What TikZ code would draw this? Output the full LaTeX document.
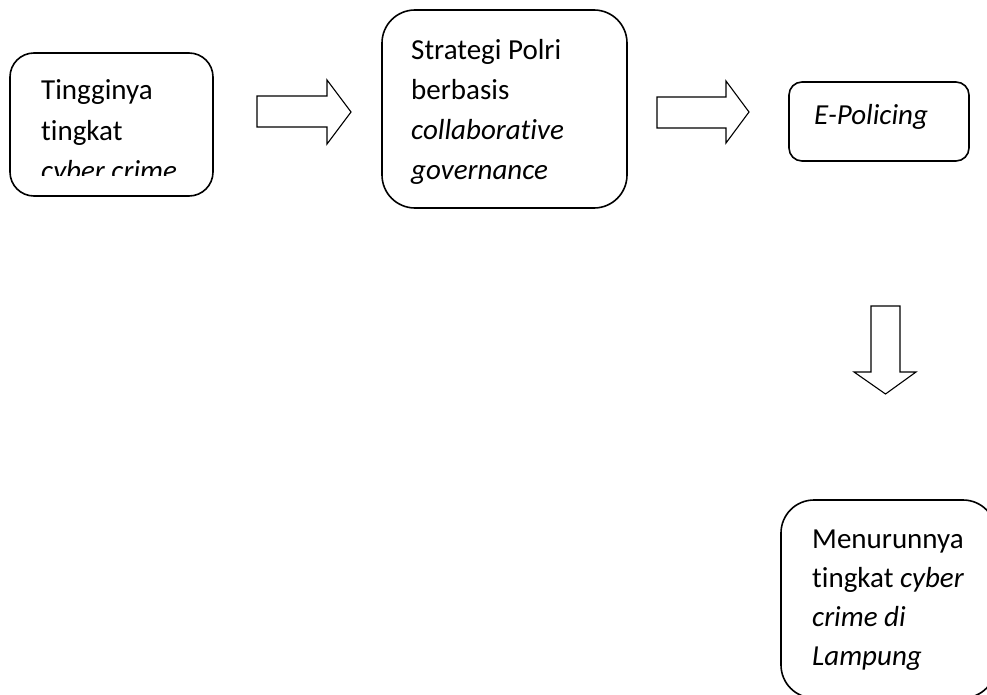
\documentclass[tikz,border=0pt]{standalone}
\usepackage{fontspec}
\setmainfont{Carlito}[Ligatures=NoCommon]
\begin{document}
\begin{tikzpicture}[x=1pt,y=-1pt,
  box/.style={draw, line width=1.6pt, inner sep=0pt},
  txt/.style={anchor=base west, align=left, inner sep=0pt, font=\fontsize{29}{40.5}\selectfont},
  blockarrow/.style={draw, line width=1.1pt, line join=miter}]
\clip (0,0) rectangle (987,695);
\fill[white] (0,0) rectangle (987,695);
% boxes
\node[box, rounded corners=24pt, minimum width=203pt, minimum height=143pt] (b1) at (111.5,124.5) {};
\node[box, rounded corners=33pt, minimum width=245pt, minimum height=198pt] (b2) at (504.5,109) {};
\node[box, rounded corners=13pt, minimum width=180pt, minimum height=79pt] (b3) at (879,121.5) {};
\node[box, rounded corners=33pt, minimum width=215pt, minimum height=198pt] (b4) at (888.5,599) {};
% texts (base anchor = last line)
\begin{scope}
\clip (b1.west |- 0,53) rectangle (213,176);
\node[txt] (t1) at (41,181) {Tingginya\\tingkat\\\textit{cyber crime}};
\end{scope}
\node[txt, font=\fontsize{29}{40}\selectfont] (t2) at (411,180) {Strategi Polri\\berbasis\\\textit{collaborative}\\\textit{governance}};
\node[txt] (t3) at (814,125) {\textit{E-Policing}};
\node[txt, font=\fontsize{29}{39}\selectfont] (t4) at (812,665) {Menurunnya\\tingkat \textit{cyber}\\\textit{crime di}\\\textit{Lampung}};
% block arrows
\coordinate (a1) at (257,96);
\draw[blockarrow] (a1) -- (327,96) -- (327,80) -- (351,112) -- (327,144) -- (327,127) -- (257,127) -- cycle;
\coordinate (a2) at (657,97);
\draw[blockarrow] (a2) -- (726,97) -- (726,81) -- (749,112) -- (726,143) -- (726,128) -- (657,128) -- cycle;
\coordinate (a3) at (871,306);
\draw[blockarrow] (a3) -- (900,306) -- (900,372) -- (916,372) -- (885.5,394) -- (854,372) -- (871,372) -- cycle;
\end{tikzpicture}
\end{document}
